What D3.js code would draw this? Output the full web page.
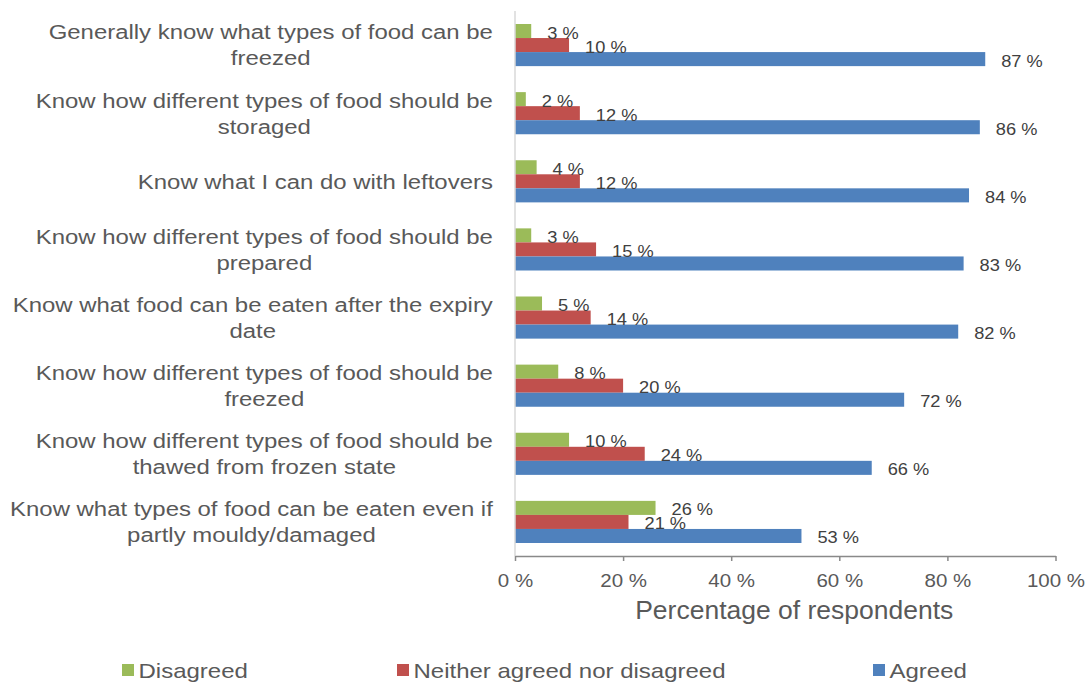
<!DOCTYPE html>
<html>
<head>
<meta charset="utf-8">
<script src="https://cdn.jsdelivr.net/npm/d3@7"></script>
<style>
  html, body { margin: 0; padding: 0; background: #fff; }
  svg { display: block; font-family: "Liberation Sans", Arial, sans-serif; }
</style>
</head>
<body>
<svg id="chart" width="1086" height="682"></svg>
<script>
// Survey statements (top to bottom)
const categories = [
  "Generally know what types of food can be freezed",
  "Know how different types of food should be storaged",
  "Know what I can do with leftovers",
  "Know how different types of food should be prepared",
  "Know what food can be eaten after the expiry date",
  "Know how different types of food should be freezed",
  "Know how different types of food should be thawed from frozen state",
  "Know what types of food can be eaten even if partly mouldy/damaged"
];

// Answer groups, drawn top to bottom inside each statement
const seriesNames = ["Disagreed", "Neither agreed nor disagreed", "Agreed"];
const seriesColors = ["#9bbb59", "#c0504d", "#4f81bd"];

// Share of respondents (%)
const disagreed = [3, 2, 4, 3, 5, 8, 10, 26];
const neither   = [10, 12, 12, 15, 14, 20, 24, 21];
const agreed    = [87, 86, 84, 83, 82, 72, 66, 53];

const xTicks = [0, 20, 40, 60, 80, 100];
const xTitle = "Percentage of respondents";

const seriesValues = [disagreed, neither, agreed];

const svg = d3.select("#chart");
const TEXT = "#595959";

// Plot frame
const plotLeft = 515, plotRight = 1055.5, plotTop = 11, plotBottom = 556;
const labelRight = 493;

const x = d3.scaleLinear().domain([0, 100]).range([plotLeft, plotRight]);
const step = (plotBottom - plotTop) / categories.length;
const y = d3.scaleBand()
  .domain(categories)
  .range([plotTop, plotBottom])
  .paddingInner(26 / step)
  .paddingOuter(13 / step);
const ySub = d3.scaleBand().domain(seriesNames).range([0, y.bandwidth()]);

// Horizontal widening applied to text runs
function widen(sel, sx) {
  sel.attr("transform", function () {
    const t = this.getAttribute("data-t") || "";
    return t + " scale(" + sx + ",1)";
  });
}

// Bars
const rows = categories.map((c, i) => ({
  cat: c,
  vals: seriesNames.map((s, k) => ({ series: s, k, value: seriesValues[k][i] }))
}));

const groups = svg.append("g").selectAll("g")
  .data(rows).join("g")
  .attr("transform", d => `translate(0,${y(d.cat)})`);

groups.selectAll("rect")
  .data(d => d.vals).join("rect")
  .attr("x", x(0))
  .attr("y", d => ySub(d.series))
  .attr("width", d => x(d.value) - x(0))
  .attr("height", ySub.bandwidth())
  .attr("fill", d => seriesColors[d.k]);

// Value labels
const LSX = 1.14;
groups.selectAll("text.val")
  .data(d => d.vals).join("text")
  .attr("class", "val")
  .attr("data-t", d => `translate(${x(d.value) + 16},${ySub(d.series) + ySub.bandwidth() / 2 + 7.5})`)
  .attr("font-size", 16)
  .attr("fill", "#404040")
  .text(d => d.value + " %")
  .call(widen, LSX);

// Vertical category axis line
svg.append("line")
  .attr("x1", plotLeft).attr("x2", plotLeft)
  .attr("y1", plotTop).attr("y2", plotBottom)
  .attr("stroke", "#d9d9d9").attr("stroke-width", 1.5);

// Bottom value axis
const xAxis = svg.append("g")
  .attr("transform", `translate(0,${plotBottom})`)
  .call(d3.axisBottom(x).tickValues(xTicks).tickFormat(d => d + " %").tickSize(5).tickSizeOuter(0));
xAxis.select(".domain").attr("stroke", "#898989").attr("stroke-width", 1.5);
xAxis.selectAll(".tick line").attr("stroke", "#898989").attr("stroke-width", 1.5);
xAxis.selectAll(".tick text")
  .attr("font-family", "Liberation Sans, Arial, sans-serif")
  .attr("font-size", 18)
  .attr("fill", TEXT)
  .attr("y", 0).attr("dy", null)
  .attr("data-t", "translate(0,31)")
  .call(widen, LSX);

// Axis title
svg.append("text")
  .attr("data-t", `translate(${(x(0) + x(100)) / 2 + 9},619)`)
  .attr("text-anchor", "middle")
  .attr("font-size", 25)
  .attr("fill", TEXT)
  .text(xTitle)
  .call(widen, 1.06);

// Category labels, wrapped and centred as a block against the axis
const CSX = 1.14, catSize = 21, lineH = 26;
const catG = svg.append("g");
categories.forEach(cat => {
  const g = catG.append("g");
  const probe = g.append("text").attr("font-size", catSize);
  const words = cat.split(" ");
  const lines = [];
  let cur = "";
  words.forEach(w => {
    const trial = cur ? cur + " " + w : w;
    probe.text(trial);
    if (cur && probe.node().getComputedTextLength() * CSX > labelRight) {
      lines.push(cur);
      cur = w;
    } else {
      cur = trial;
    }
  });
  lines.push(cur);
  const widths = lines.map(l => { probe.text(l); return probe.node().getComputedTextLength() * CSX; });
  probe.remove();
  const maxW = d3.max(widths);
  const cx = labelRight - maxW / 2;
  const cy = y(cat) + y.bandwidth() / 2;
  lines.forEach((l, i) => {
    const ly = cy + (i - (lines.length - 1) / 2) * lineH + catSize * 0.35;
    g.append("text")
      .attr("data-t", `translate(${cx},${ly})`)
      .attr("text-anchor", "middle")
      .attr("font-size", catSize)
      .attr("fill", TEXT)
      .text(l)
      .call(widen, CSX);
  });
});

// Legend
const legendX = [122, 397, 873];
const legend = svg.append("g").selectAll("g")
  .data(seriesNames).join("g")
  .attr("transform", (d, i) => `translate(${legendX[i]},664)`);
legend.append("rect")
  .attr("width", 12).attr("height", 12)
  .attr("fill", (d, i) => seriesColors[i]);
legend.append("text")
  .attr("data-t", "translate(16.5,14)")
  .attr("font-size", 20)
  .attr("fill", TEXT)
  .text(d => d)
  .call(widen, 1.2);
</script>
</body>
</html>
